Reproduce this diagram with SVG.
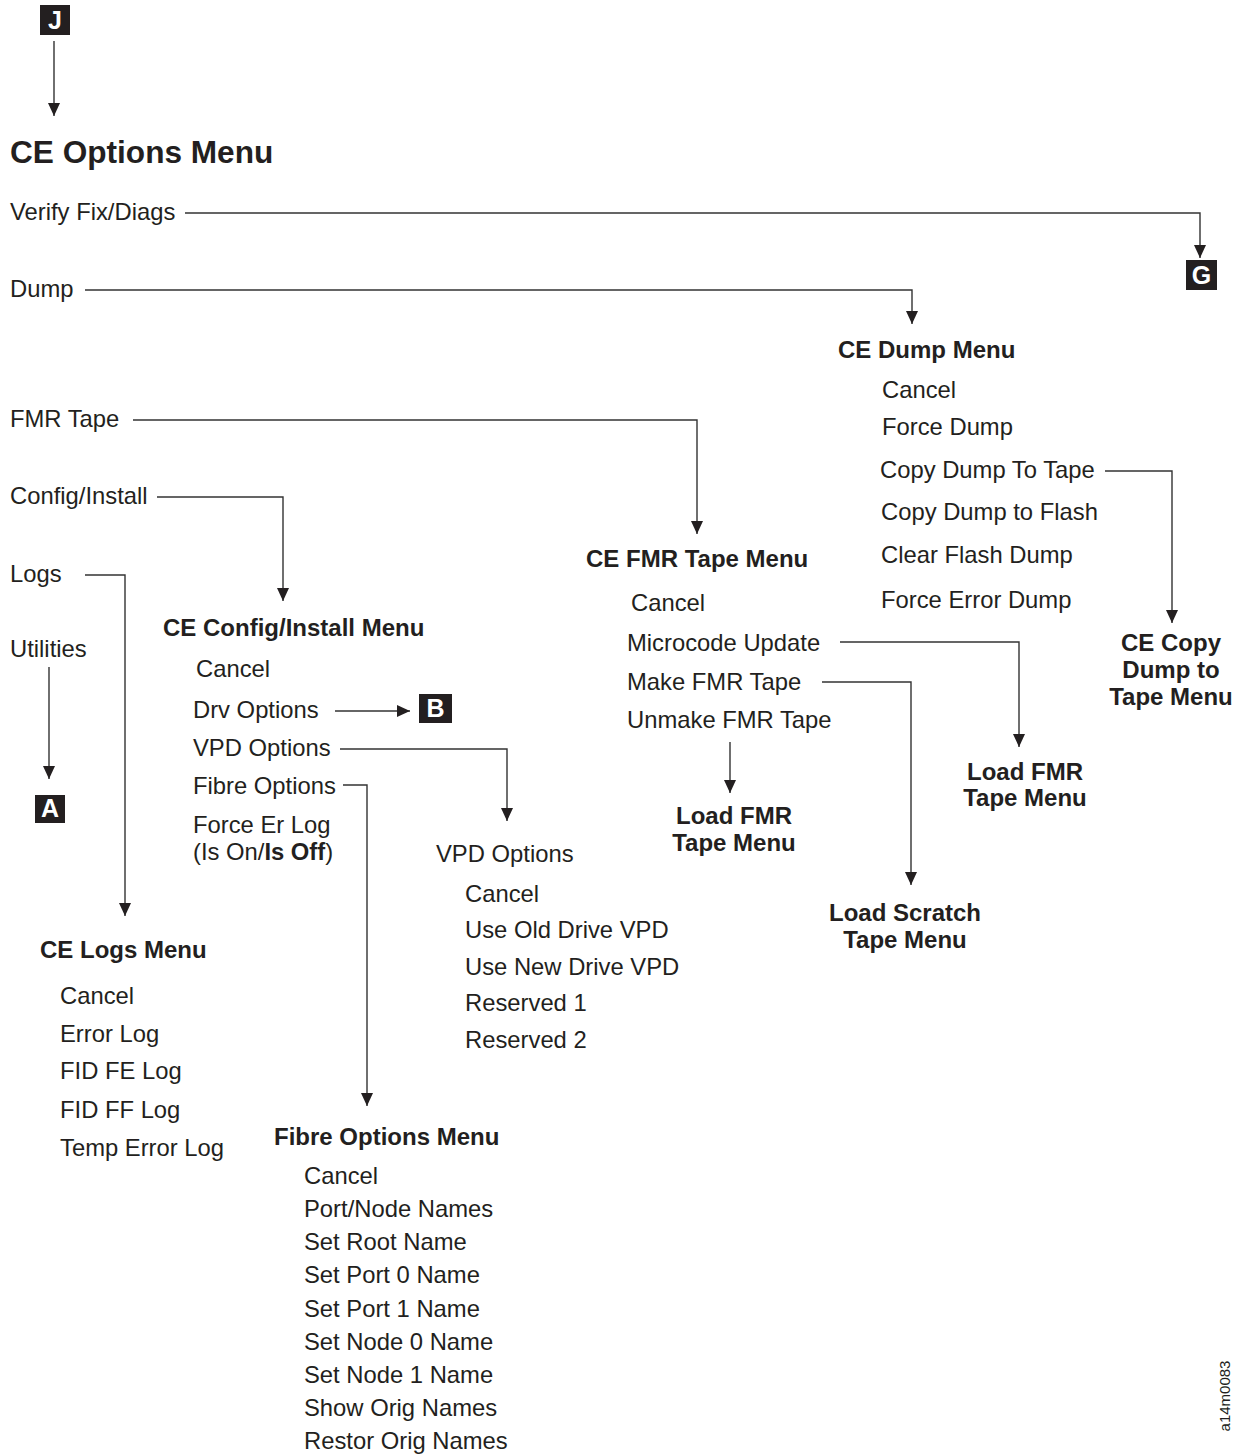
<svg xmlns="http://www.w3.org/2000/svg" width="1242" height="1456" viewBox="0 0 1242 1456">
  <style>
    text { font-family: "Liberation Sans", Arial, sans-serif; fill: #231f20; }
    .it { font-size: 23.8px; }
    .hd { font-size: 24px; font-weight: bold; }
    .ttl { font-size: 31.6px; font-weight: bold; }
    .tag rect { fill: #231f20; }
    .tag text { fill: #ffffff; font-size: 25px; font-weight: bold; text-anchor: middle; }
    .ctr { text-anchor: middle; }
    #connectors path { fill: none; stroke: #333333; stroke-width: 1.4; marker-end: url(#arrow); }
  </style>
  <defs>
    <marker id="arrow" markerUnits="userSpaceOnUse" markerWidth="14" markerHeight="14" viewBox="0 0 14 14" refX="13" refY="7" orient="auto">
      <path d="M0,1 L13,7 L0,13 z" fill="#231f20"/>
    </marker>
  </defs>
  <rect width="1242" height="1456" fill="#ffffff"/>

  <!-- connectors -->
  <g id="connectors">
    <path d="M54,41 V116"/>
    <path d="M185,213 H1200 V258"/>
    <path d="M85,290 H912 V324"/>
    <path d="M1105,471 H1172 V623"/>
    <path d="M133,420 H697 V534"/>
    <path d="M840,642 H1019 V747"/>
    <path d="M822,682 H911 V885"/>
    <path d="M730,742 V793"/>
    <path d="M157,497 H283 V601"/>
    <path d="M85,575 H125 V916"/>
    <path d="M49,667 V779"/>
    <path d="M335,711 H410"/>
    <path d="M340,749 H507 V821"/>
    <path d="M343,785 H367 V1106"/>
  </g>

  <!-- off-page tags -->
  <g id="tag-J" class="tag"><rect x="40" y="5" width="30" height="30"/><text x="55" y="29">J</text></g>
  <g id="tag-G" class="tag"><rect x="1186" y="260" width="31" height="30"/><text x="1201.5" y="284">G</text></g>
  <g id="tag-B" class="tag"><rect x="419" y="694" width="33" height="29"/><text x="435.5" y="717">B</text></g>
  <g id="tag-A" class="tag"><rect x="35" y="795" width="30" height="28"/><text x="50" y="817">A</text></g>

  <!-- main menu -->
  <g id="ce-options-menu">
    <text class="ttl" x="10" y="163">CE Options Menu</text>
    <text class="it" x="10" y="220">Verify Fix/Diags</text>
    <text class="it" x="10" y="297">Dump</text>
    <text class="it" x="10" y="427">FMR Tape</text>
    <text class="it" x="10" y="504">Config/Install</text>
    <text class="it" x="10" y="582">Logs</text>
    <text class="it" x="10" y="657">Utilities</text>
  </g>

  <g id="ce-dump-menu">
    <text class="hd" x="838" y="358">CE Dump Menu</text>
    <text class="it" x="882" y="398">Cancel</text>
    <text class="it" x="882" y="435">Force Dump</text>
    <text class="it" x="880" y="478">Copy Dump To Tape</text>
    <text class="it" x="881" y="520">Copy Dump to Flash</text>
    <text class="it" x="881" y="563">Clear Flash Dump</text>
    <text class="it" x="881" y="608">Force Error Dump</text>
  </g>

  <g id="ce-copy-dump-menu">
    <text class="hd ctr" x="1171" y="651">CE Copy</text>
    <text class="hd ctr" x="1171" y="678">Dump to</text>
    <text class="hd ctr" x="1171" y="705">Tape Menu</text>
  </g>

  <g id="ce-fmr-tape-menu">
    <text class="hd" x="586" y="567">CE FMR Tape Menu</text>
    <text class="it" x="631" y="611">Cancel</text>
    <text class="it" x="627" y="651">Microcode Update</text>
    <text class="it" x="627" y="690">Make FMR Tape</text>
    <text class="it" x="627" y="728">Unmake FMR Tape</text>
  </g>

  <g id="load-fmr-menu-1">
    <text class="hd ctr" x="1025" y="780">Load FMR</text>
    <text class="hd ctr" x="1025" y="806">Tape Menu</text>
  </g>

  <g id="load-scratch-menu">
    <text class="hd ctr" x="905" y="921">Load Scratch</text>
    <text class="hd ctr" x="905" y="948">Tape Menu</text>
  </g>

  <g id="load-fmr-menu-2">
    <text class="hd ctr" x="734" y="824">Load FMR</text>
    <text class="hd ctr" x="734" y="851">Tape Menu</text>
  </g>

  <g id="ce-config-install-menu">
    <text class="hd" x="163" y="636">CE Config/Install Menu</text>
    <text class="it" x="196" y="677">Cancel</text>
    <text class="it" x="193" y="718">Drv Options</text>
    <text class="it" x="193" y="756">VPD Options</text>
    <text class="it" x="193" y="794">Fibre Options</text>
    <text class="it" x="193" y="833">Force Er Log</text>
    <text class="it" x="193" y="860">(Is On/<tspan font-weight="bold">Is Off</tspan>)</text>
  </g>

  <g id="vpd-options-menu">
    <text class="it" x="436" y="862">VPD Options</text>
    <text class="it" x="465" y="902">Cancel</text>
    <text class="it" x="465" y="938">Use Old Drive VPD</text>
    <text class="it" x="465" y="975">Use New Drive VPD</text>
    <text class="it" x="465" y="1011">Reserved 1</text>
    <text class="it" x="465" y="1048">Reserved 2</text>
  </g>

  <g id="ce-logs-menu">
    <text class="hd" x="40" y="958">CE Logs Menu</text>
    <text class="it" x="60" y="1004">Cancel</text>
    <text class="it" x="60" y="1042">Error Log</text>
    <text class="it" x="60" y="1079">FID FE Log</text>
    <text class="it" x="60" y="1118">FID FF Log</text>
    <text class="it" x="60" y="1156">Temp Error Log</text>
  </g>

  <g id="fibre-options-menu">
    <text class="hd" x="274" y="1145">Fibre Options Menu</text>
    <text class="it" x="304" y="1184">Cancel</text>
    <text class="it" x="304" y="1217">Port/Node Names</text>
    <text class="it" x="304" y="1250">Set Root Name</text>
    <text class="it" x="304" y="1283">Set Port 0 Name</text>
    <text class="it" x="304" y="1317">Set Port 1 Name</text>
    <text class="it" x="304" y="1350">Set Node 0 Name</text>
    <text class="it" x="304" y="1383">Set Node 1 Name</text>
    <text class="it" x="304" y="1416">Show Orig Names</text>
    <text class="it" x="304" y="1449">Restor Orig Names</text>
  </g>

  <text x="1230" y="1396" font-size="15" text-anchor="middle" transform="rotate(-90 1230 1396)">a14m0083</text>
</svg>
